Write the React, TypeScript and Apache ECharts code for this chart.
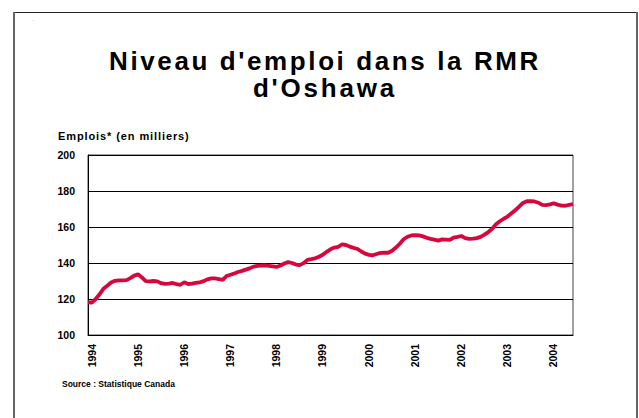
import React, { useEffect, useRef } from "react";
import * as echarts from "echarts";

const startYear = 1994;
const yearLabels = ["1994", "1995", "1996", "1997", "1998", "1999", "2000", "2001", "2002", "2003", "2004"];
// Monthly employment (thousands), Jan 1994 – Jul 2004
const employment = [
  118.2, 118.0, 120.0, 122.6, 125.7, 127.4, 129.2, 130.1, 130.4, 130.4, 130.5, 131.6,
  133.0, 133.7, 132.0, 129.9, 129.8, 130.0, 129.8, 128.8, 128.4, 128.6, 128.9, 128.3,
  127.9, 129.3, 128.3, 128.6, 128.9, 129.2, 129.9, 130.9, 131.5, 131.5, 131.1, 130.6,
  132.8, 133.5, 134.2, 135.0, 135.6, 136.3, 137.0, 138.0, 138.4, 138.6, 138.7, 138.4,
  138.1, 137.8, 138.6, 139.7, 140.5, 140.0, 139.1, 138.8, 139.9, 141.7, 142.1, 142.6,
  143.5, 144.6, 146.2, 147.6, 148.6, 149.0, 150.3, 150.0, 149.1, 148.4, 147.8, 146.4,
  145.2, 144.5, 144.3, 145.0, 145.6, 145.7, 145.7, 146.8, 148.6, 150.7, 153.2, 154.6,
  155.3, 155.5, 155.3, 154.8, 154.0, 153.4, 153.0, 152.4, 153.1, 153.0, 152.8, 154.1,
  154.5, 155.0, 153.8, 153.4, 153.5, 153.8, 154.5, 155.8, 157.2, 159.0, 161.5, 163.2,
  164.6, 165.8, 167.6, 169.3, 171.3, 173.4, 174.3, 174.4, 174.2, 173.5, 172.3, 172.2,
  172.6, 173.1, 172.4, 171.9, 171.8, 172.3, 172.7,
];
const months = employment.map((_, i) => {
  const y = startYear + Math.floor(i / 12);
  const m = (i % 12) + 1;
  return `${y}-${m < 10 ? "0" + m : m}`;
});
const yTicks = { min: 100, max: 200, interval: 20 };
const titleLines = ["Niveau d'emploi dans la RMR", "d'Oshawa"];
const yAxisTitle = "Emplois* (en milliers)";
const sourceText = "Source : Statistique Canada";

export default function App() {
  const ref = useRef<HTMLDivElement>(null);
  useEffect(() => {
    document.body.style.margin = "0";
    const el = ref.current!;
    const chart = echarts.init(el, null, { renderer: "svg" });
    const font = "'Liberation Sans', Arial, sans-serif";
    chart.setOption({
      animation: false,
      backgroundColor: "#ffffff",
      grid: {
        left: 88,
        right: 66,
        top: 155,
        bottom: 83,
        show: true,
        borderColor: "#444",
        borderWidth: 1,
      },
      xAxis: {
        type: "category",
        data: months,
        boundaryGap: false,
        axisLine: { show: true, lineStyle: { color: "#000", width: 1 } },
        axisTick: { show: false },
        axisLabel: {
          rotate: 90,
          margin: 9,
          interval: (i: number) => i % 12 === 0,
          formatter: (v: string) => {
            const y = v.slice(0, 4);
            return yearLabels.includes(y) ? y : "";
          },
          color: "#000",
          fontFamily: font,
          fontWeight: "bold",
          fontSize: 10.5,
          verticalAlign: "top",
          lineHeight: 7,
        },
        splitLine: { show: false },
      },
      yAxis: {
        type: "value",
        min: yTicks.min,
        max: yTicks.max,
        interval: yTicks.interval,
        axisLine: { show: true, lineStyle: { color: "#000", width: 1 } },
        axisTick: { show: false },
        axisLabel: {
          margin: 13,
          color: "#000",
          fontFamily: font,
          fontWeight: "bold",
          fontSize: 10.5,
        },
        splitLine: { show: true, lineStyle: { color: "#000", width: 1 } },
      },
      series: [
        {
          type: "line",
          data: employment,
          showSymbol: false,
          smooth: false,
          lineStyle: { color: "#d9063c", width: 3.8 },
          itemStyle: { color: "#d9063c" },
        },
      ],
      graphic: [
        { type: "line", shape: { x1: 13, y1: 12.5, x2: 637, y2: 12.5 }, style: { stroke: "#222", lineWidth: 1 } },
        { type: "line", shape: { x1: 14, y1: 12, x2: 14, y2: 418 }, style: { stroke: "#666", lineWidth: 2 } },
        { type: "line", shape: { x1: 637, y1: 12, x2: 637, y2: 418 }, style: { stroke: "#666", lineWidth: 2 } },
        { type: "text", x: 32, y: 16, style: { text: ".", fontSize: 6, fill: "#888", fontFamily: font } },
        {
          type: "text",
          x: 325,
          y: 74.5,
          style: {
            text: titleLines.join("\n"),
            fontFamily: font,
            fontWeight: "bold",
            fontSize: 26,
            lineHeight: 27,
            fill: "#000",
            align: "center",
            verticalAlign: "middle",
          },
        },
        {
          type: "text",
          x: 58,
          y: 136,
          style: {
            text: yAxisTitle,
            fontFamily: font,
            fontWeight: "bold",
            fontSize: 11,
            fill: "#000",
            align: "left",
            verticalAlign: "middle",
          },
        },
        {
          type: "text",
          x: 62,
          y: 384,
          style: {
            text: sourceText,
            fontFamily: font,
            fontWeight: "bold",
            fontSize: 8.5,
            fill: "#000",
            align: "left",
            verticalAlign: "middle",
          },
        },
      ],
    });
    const spacing: Record<string, string> = {
      [titleLines[0]]: "2.6px",
      [titleLines[1]]: "2.8px",
      [yAxisTitle]: "0.9px",
    };
    const applySpacing = () => {
      el.querySelectorAll("text").forEach((t) => {
        const s = spacing[(t.textContent || "").trim()];
        if (s) t.setAttribute("letter-spacing", s);
      });
    };
    applySpacing();
    chart.on("finished", applySpacing);
    const timer = setTimeout(applySpacing, 50);
    return () => {
      clearTimeout(timer);
      chart.dispose();
    };
  }, []);
  return <div ref={ref} style={{ width: 639, height: 418 }} />;
}
